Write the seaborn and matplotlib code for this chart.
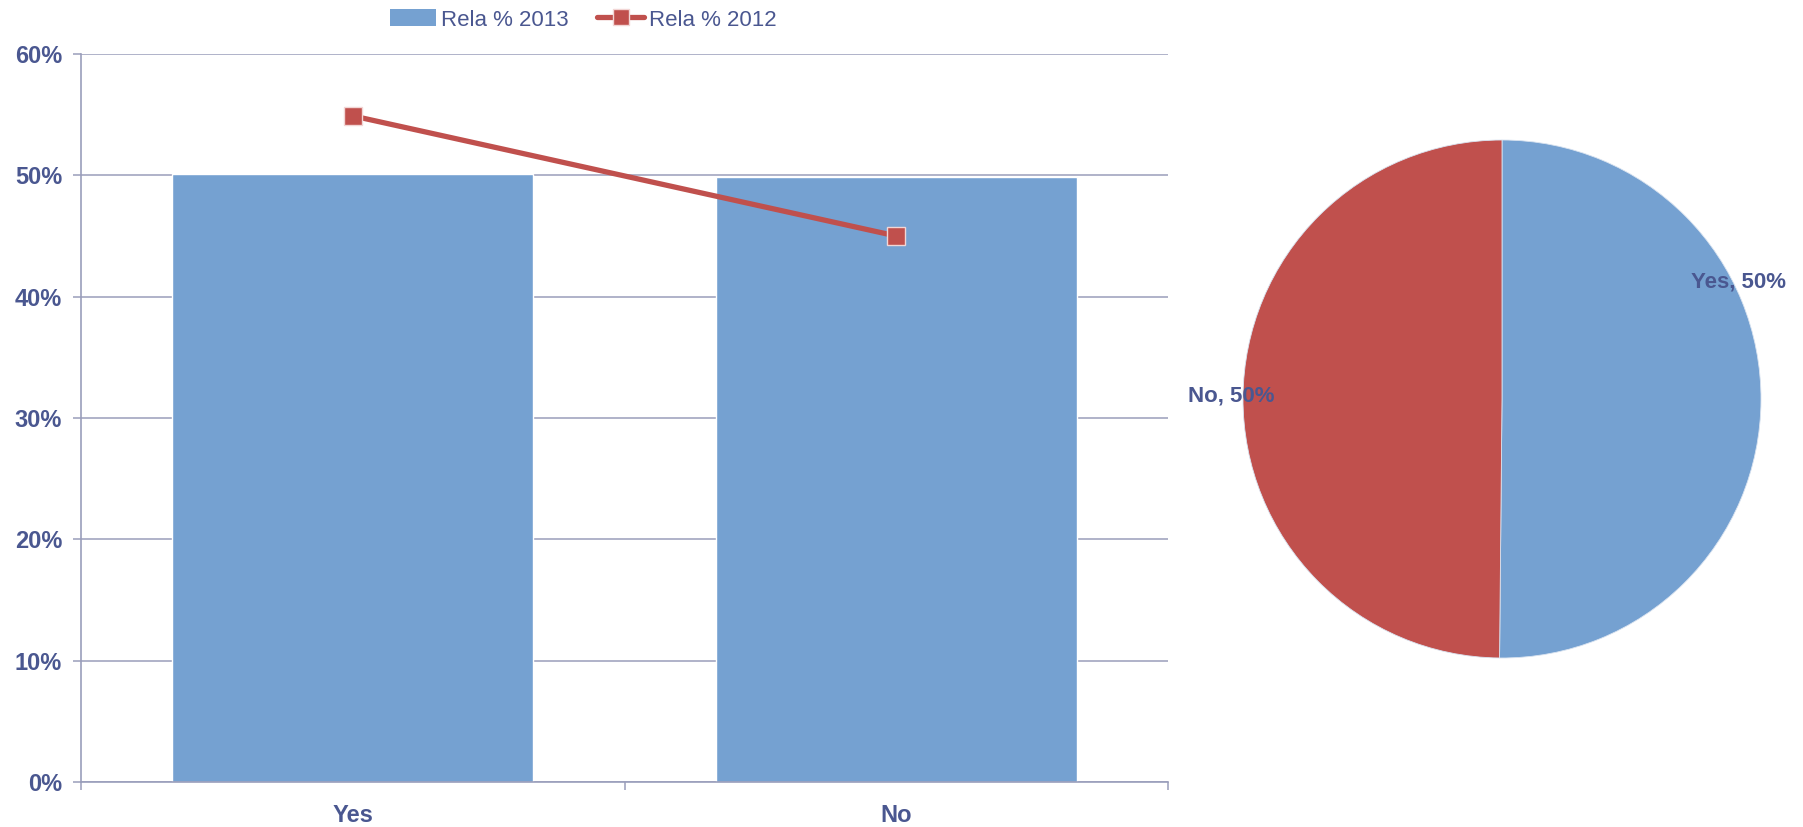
import numpy as np
import matplotlib
matplotlib.use("Agg")
import matplotlib.pyplot as plt
from matplotlib.lines import Line2D
from matplotlib.patches import Patch
import seaborn as sns

categories = ["Yes", "No"]
rela_2013 = [50.15, 49.85]
rela_2012 = [54.9, 45.0]
pie_labels = ["Yes, 50%", "No, 50%"]

BLUE = "#75A1D1"
RED = "#C0504D"
TEXT = "#4A5790"
GRID = "#9A9EBB"

sns.set_theme(style="white")
plt.rcParams["font.family"] = ["Liberation Sans", "DejaVu Sans"]

W, H = 1803, 827
fig = plt.figure(figsize=(W / 100, H / 100), dpi=100)

# ---- bar + line chart ----
ax = fig.add_axes([81 / W, 1 - 782 / H, (1168 - 81) / W, (782 - 54) / H])
pos = np.arange(len(categories))
sns.barplot(x=pos, y=rela_2013, color=BLUE, width=0.664, saturation=1,
            native_scale=True, ax=ax, zorder=2)
ax.plot(pos, rela_2012, color=RED, lw=3.8, marker="s", markersize=13,
        markerfacecolor=RED, markeredgecolor="#F2D6D5", markeredgewidth=1.0,
        zorder=3, solid_capstyle="round")

ax.set_xlim(-0.5, 1.5)
ax.set_ylim(0, 60)
ax.set_yticks(np.arange(0, 61, 10))
ax.set_yticklabels([f"{v}%" for v in range(0, 61, 10)], fontweight="bold")
ax.set_xticks(pos)
ax.set_xticklabels(categories, fontweight="bold")
ax.set_xticks([-0.5, 0.5, 1.5], minor=True)
ax.yaxis.grid(True, color=GRID, lw=1.1, zorder=0)
ax.xaxis.grid(False)
ax.set_axisbelow(True)
for side in ["top", "right"]:
    ax.spines[side].set_visible(False)
for side in ["left", "bottom"]:
    ax.spines[side].set_color(GRID)
    ax.spines[side].set_linewidth(1.2)
ax.tick_params(axis="y", which="major", left=True, length=5.5, width=1.1, color=GRID,
               pad=8, labelsize=17, labelcolor=TEXT)
ax.tick_params(axis="x", which="major", bottom=False, length=0, pad=16,
               labelsize=17, labelcolor=TEXT)
ax.tick_params(axis="x", which="minor", bottom=True, length=6, width=1.1, color=GRID)
ax.set_xlabel("")
ax.set_ylabel("")

handles = [Patch(facecolor=BLUE, edgecolor="none"),
           Line2D([0], [0], color=RED, lw=3.8, marker="s", markersize=11,
                  markerfacecolor=RED, markeredgecolor="#F2D6D5")]
fig.legend(handles, ["Rela % 2013", "Rela % 2012"], loc="center",
           bbox_to_anchor=(583 / W, 1 - 20 / H), ncol=2, frameon=False,
           fontsize=16, labelcolor=TEXT, handlelength=2.1, handleheight=0.8,
           columnspacing=1.3, handletextpad=0.2)

# ---- pie chart ----
cx, cy, r = 1502, 399, 259
half = 300
pax = fig.add_axes([(cx - half) / W, (H - cy - half) / H, 2 * half / W, 2 * half / H])
pax.pie(rela_2013, colors=[BLUE, RED], startangle=90, counterclock=False,
        radius=1, wedgeprops=dict(edgecolor="#D9E3F0", linewidth=0.6))
lim = half / r
pax.set_xlim(-lim, lim)
pax.set_ylim(-lim, lim)
pax.set_aspect("equal")
pax.axis("off")
pax.text(0.915, 0.452, pie_labels[0], ha="center", va="center", fontsize=16,
         fontweight="bold", color=TEXT)
pax.text(-1.046, 0.012, pie_labels[1], ha="center", va="center", fontsize=16,
         fontweight="bold", color=TEXT)

fig.savefig("out.png", dpi=100)
